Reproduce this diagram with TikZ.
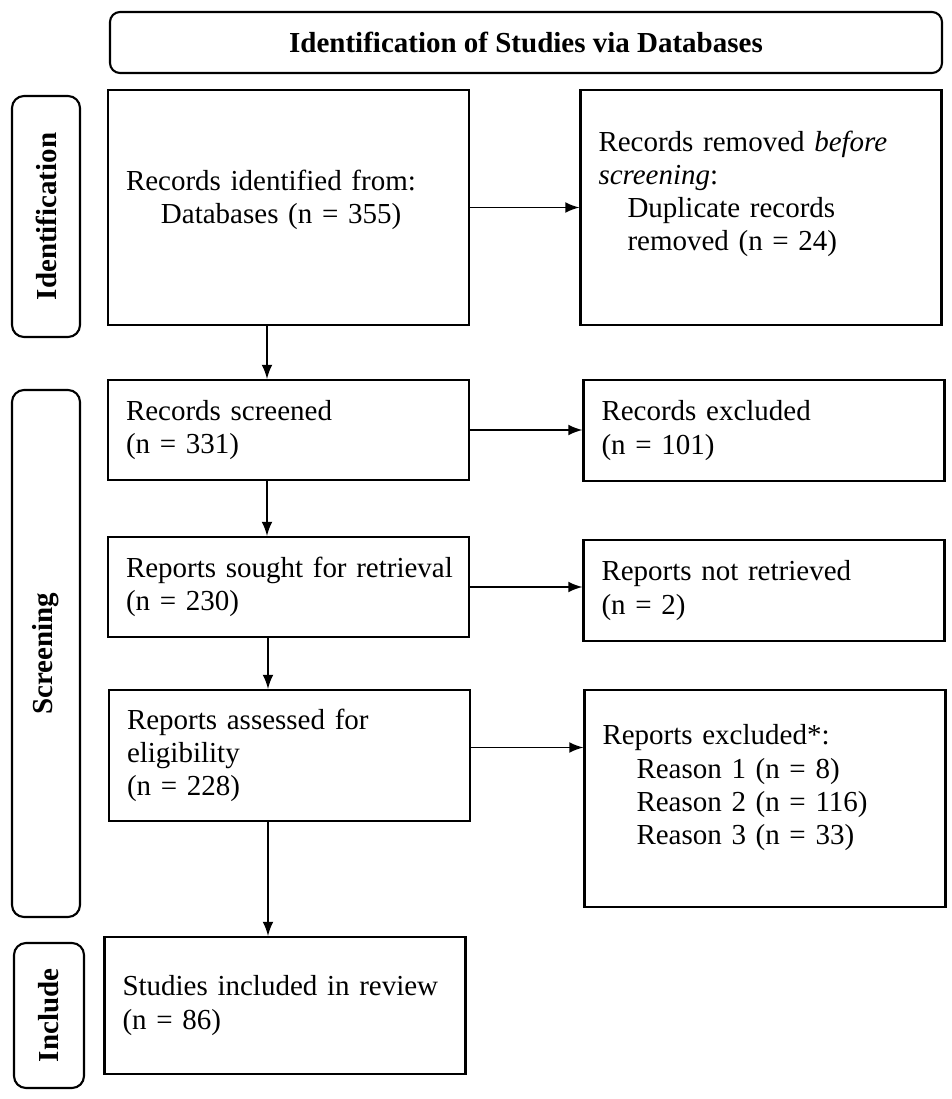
\documentclass[tikz,border=0pt]{standalone}
\usepackage{fontspec}
\setmainfont{Liberation Serif}
\usepackage{tikz}
\usetikzlibrary{arrows}

\begin{document}
\begin{tikzpicture}[
  font=\fontsize{8.25}{9.4}\selectfont,
  box/.style={draw=black, line width=0.6pt, text width=3.25cm, inner xsep=0.18cm, align=left},
  phase/.style={draw=black, line width=0.6pt, rounded corners=0.12cm, rotate=90, font=\fontsize{8.25}{9.4}\selectfont\bfseries},
  arr/.style={-latex, line width=0.4pt}
]
\useasboundingbox (0,0) rectangle (9.52,-10.99);

% header and phase labels
\node[draw=black, line width=0.6pt, rounded corners=0.1cm, minimum width=8.32cm, minimum height=0.61cm, font=\fontsize{8.25}{9.4}\selectfont\bfseries] (title) at (5.26,-0.425) {Identification of Studies via Databases};
\node[phase, minimum width=2.41cm, minimum height=0.68cm] (ident) at (0.46,-2.165) {Identification};
\node[phase, minimum width=5.27cm, minimum height=0.68cm] (screen) at (0.46,-6.535) {Screening};
\node[phase, minimum width=1.45cm, minimum height=0.70cm] (incl) at (0.49,-10.155) {Include};

% main column
\node[box, minimum height=2.35cm] (found) at (2.885,-2.075) {Records identified from:\\ \hspace*{0.35cm}Databases (n = 355)\\[-0.11cm]\mbox{}};
\node[box, minimum height=1.0cm] (screened) at (2.885,-4.30) {Records screened\\ (n = 331)};
\node[box, minimum height=1.0cm] (sought) at (2.885,-5.87) {\mbox{Reports sought for retrieval}\\ (n = 230)};
\node[box, minimum height=1.31cm] (assessed) at (2.895,-7.555) {Reports assessed for\\ eligibility\\ (n = 228)};
\node[box, minimum height=1.37cm] (included) at (2.85,-10.055) {Studies included in review\\ (n = 86)};

% side column
\node[box, minimum height=2.35cm] (removed) at (7.61,-2.075) {Records removed \textit{before screening}:\\ \hspace*{0.29cm}Duplicate records\\ \hspace*{0.29cm}removed (n = 24)\\ \mbox{}};
\node[box, minimum height=1.01cm] (excluded) at (7.64,-4.305) {Records excluded\\ (n = 101)};
\node[box, minimum height=1.01cm] (notret) at (7.64,-5.905) {Reports not retrieved\\ (n = 2)};
\node[box, minimum height=2.17cm] (reasons) at (7.65,-7.985) {Reports excluded*:\\ \hspace*{0.34cm}Reason 1 (n = 8)\\ \hspace*{0.34cm}Reason 2 (n = 116)\\ \hspace*{0.34cm}Reason 3 (n = 33)\\[-0.05cm]\mbox{}};

% arrows
\draw[arr] (found.east) -- (found.east -| removed.west);
\draw[arr] (screened.east) -- (screened.east -| excluded.west);
\draw[arr] (sought.east) -- (sought.east -| notret.west);
\draw[arr] ([yshift=0.08cm]assessed.east) -- ([yshift=0.08cm]assessed.east -| reasons.west);

\draw[arr] ([xshift=-0.215cm]found.south) -- ([xshift=-0.215cm]found.south |- screened.north);
\draw[arr] ([xshift=-0.215cm]screened.south) -- ([xshift=-0.215cm]screened.south |- sought.north);
\draw[arr] ([xshift=-0.205cm]sought.south) -- ([xshift=-0.205cm]sought.south |- assessed.north);
\draw[arr] ([xshift=-0.215cm]assessed.south) -- ([xshift=-0.215cm]assessed.south |- included.north);
\end{tikzpicture}
\end{document}
